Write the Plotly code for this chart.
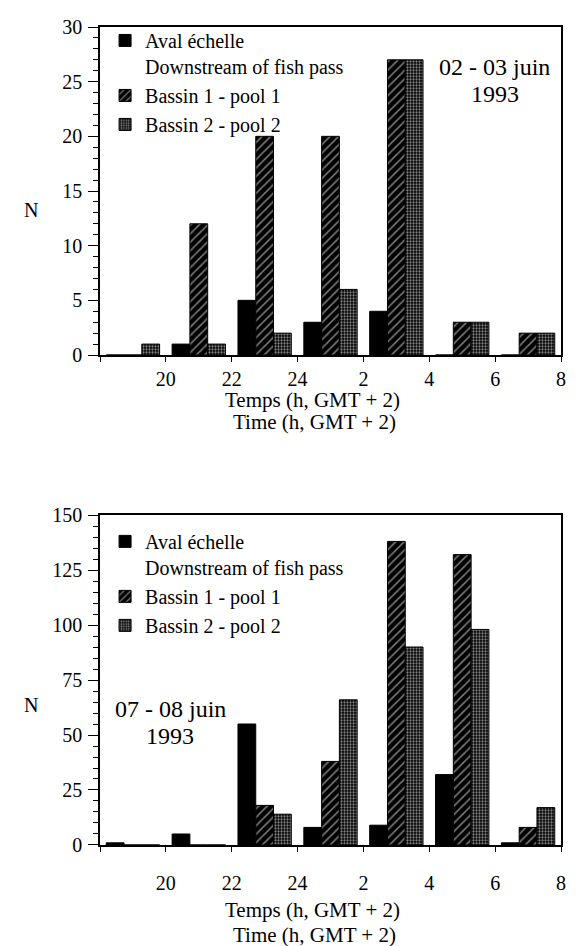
import plotly.graph_objects as go

# Two-hour intervals (start hour, 18 = 18h day 1, 26 = 2h day 2)
start_hour = [18, 20, 22, 24, 26, 28, 30]
tick_vals = [18, 20, 22, 24, 26, 28, 30, 32]
tick_text = ["", "20", "22", "24", "2", "4", "6", "8"]

# 02 - 03 juin 1993
top_aval = [0, 1, 5, 3, 4, 0, 0]
top_bassin1 = [0, 12, 20, 20, 27, 3, 2]
top_bassin2 = [1, 1, 2, 6, 27, 3, 2]

# 07 - 08 juin 1993
bot_aval = [1, 5, 55, 8, 9, 32, 1]
bot_bassin1 = [0, 0, 18, 38, 138, 132, 8]
bot_bassin2 = [0, 0, 14, 66, 90, 98, 17]

names = ["Aval échelle<br>Downstream of fish pass", "Bassin 1 - pool 1", "Bassin 2 - pool 2"]

x_mid = [h + 1 for h in start_hour]
FONT = "Liberation Serif"

styles = [
    dict(color="black", line=dict(color="black", width=1)),
    dict(color="black", line=dict(color="black", width=1),
         pattern=dict(shape="/", bgcolor="black", fgcolor="white", size=6, solidity=0.25)),
    dict(color="black", line=dict(color="black", width=1),
         pattern=dict(shape=".", bgcolor="black", fgcolor="white", size=3, solidity=0.45)),
]

fig = go.Figure()
for i, vals in enumerate([top_aval, top_bassin1, top_bassin2]):
    fig.add_trace(go.Bar(x=x_mid, y=vals, name=names[i], marker=styles[i],
                         xaxis="x", yaxis="y", offsetgroup=str(i), legend="legend"))
for i, vals in enumerate([bot_aval, bot_bassin1, bot_bassin2]):
    fig.add_trace(go.Bar(x=x_mid, y=vals, name=names[i], marker=styles[i],
                         xaxis="x2", yaxis="y2", offsetgroup=str(i), legend="legend2"))

xcommon = dict(range=[18, 32], tickvals=tick_vals, ticktext=tick_text, ticks="outside",
               ticklen=5, tickwidth=1, tickcolor="black", showline=True, linecolor="black",
               linewidth=1.5, mirror=True, showgrid=False, zeroline=False,
               tickfont=dict(family=FONT, size=20, color="black"))
ycommon = dict(ticks="outside", ticklen=10, tickwidth=1, tickcolor="black", showline=True,
               linecolor="black", linewidth=1.5, mirror=True, showgrid=False, zeroline=False,
               tickfont=dict(family=FONT, size=20, color="black"), ticklabelstandoff=2)

fig.update_layout(
    width=561, height=938,
    margin=dict(l=92, r=3, t=19, b=101),
    paper_bgcolor="white", plot_bgcolor="white",
    barmode="group", bargap=0.19, bargroupgap=0,
    font=dict(family=FONT, size=20, color="black"),
    xaxis=dict(domain=[0, 1], anchor="y", ticklabelstandoff=0, **xcommon),
    yaxis=dict(domain=[0.599, 1], anchor="x", range=[0, 30], dtick=5,
               minor=dict(dtick=1, ticks="outside", ticklen=5, tickcolor="black"), **ycommon),
    xaxis2=dict(domain=[0, 1], anchor="y2", ticklabelstandoff=14, **xcommon),
    yaxis2=dict(domain=[0, 0.4034], anchor="x2", range=[0, 150], dtick=25,
                minor=dict(dtick=5, ticks="outside", ticklen=5, tickcolor="black"), **ycommon),
    legend=dict(x=0.011, y=1.0074, xanchor="left", yanchor="top", bgcolor="rgba(0,0,0,0)",
                font=dict(family=FONT, size=20, color="black"), valign="top",
                tracegroupgap=0, itemwidth=30),
    legend2=dict(x=0.011, y=0.395, xanchor="left", yanchor="top", bgcolor="rgba(0,0,0,0)",
                 font=dict(family=FONT, size=20, color="black"), valign="top",
                 tracegroupgap=0, itemwidth=30),
    showlegend=True,
)

def note(text, x, y, size):
    fig.add_annotation(text=text, x=x, y=y, xref="paper", yref="paper", showarrow=False,
                       xanchor="center", yanchor="middle",
                       font=dict(family=FONT, size=size, color="black"))

for (tx, x, y) in [("Temps (h, GMT + 2)", 0.4614, 0.5440), ("Time (h, GMT + 2)", 0.4657, 0.5171),
                   ("Temps (h, GMT + 2)", 0.4614, -0.0795), ("Time (h, GMT + 2)", 0.4657, -0.110)]:
    note(tx, x, y, 21)
note("N", -0.150, 0.776, 20)
note("N", -0.150, 0.171, 20)
note("02 - 03 juin", 0.856, 0.9511, 24)
note("1993", 0.856, 0.9181, 24)
note("07 - 08 juin", 0.152, 0.1663, 24)
note("1993", 0.152, 0.1333, 24)

fig.write_html("out.html")
